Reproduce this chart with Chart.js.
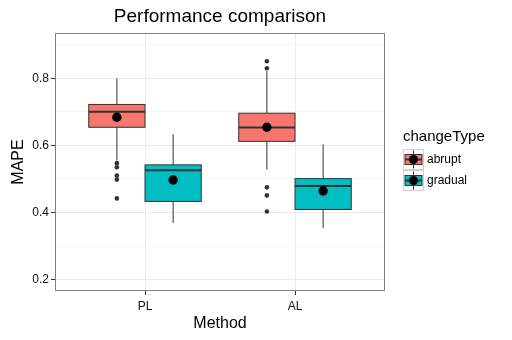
<!DOCTYPE html>
<html><head><meta charset="utf-8">
<script src="https://cdn.jsdelivr.net/npm/chart.js@4"></script>
<style>html,body{margin:0;padding:0;background:#fff}#wrap{width:512px;height:340px}</style>
</head><body><div id="wrap"><canvas id="c" width="512" height="340"></canvas></div>
<script>
const categories = ['PL', 'AL'];
const groups = ['abrupt', 'gradual'];
const groupColors = ['#F8766D', '#00BFC4'];
const yMajorTicks = [0.2, 0.4, 0.6, 0.8];
const yMinorTicks = [0.3, 0.5, 0.7, 0.9];

const abruptWhiskerLow  = [0.555, 0.528];
const abruptQ1          = [0.654, 0.612];
const abruptMedian      = [0.700, 0.653];
const abruptQ3          = [0.722, 0.696];
const abruptWhiskerHigh = [0.800, 0.822];
const abruptMean        = [0.684, 0.654];
const abruptOutliers    = [[0.547, 0.535, 0.510, 0.498, 0.442], [0.851, 0.830, 0.475, 0.451, 0.403]];

const gradualWhiskerLow  = [0.369, 0.354];
const gradualQ1          = [0.433, 0.409];
const gradualMedian      = [0.526, 0.479];
const gradualQ3          = [0.542, 0.501];
const gradualWhiskerHigh = [0.633, 0.603];
const gradualMean        = [0.497, 0.464];
const gradualOutliers    = [[], []];

const FONT = '"Liberation Sans", Arial, sans-serif';
const stats = [
  {lo: abruptWhiskerLow, q1: abruptQ1, med: abruptMedian, q3: abruptQ3, hi: abruptWhiskerHigh, mean: abruptMean, out: abruptOutliers},
  {lo: gradualWhiskerLow, q1: gradualQ1, med: gradualMedian, q3: gradualQ3, hi: gradualWhiskerHigh, mean: gradualMean, out: gradualOutliers}
];
const DODGE = 0.375;
function xPos(ci, gi) { return ci + 1 + (gi === 0 ? -DODGE / 2 : DODGE / 2); }

const datasets = [];
stats.forEach((s, gi) => {
  const pts = [];
  s.out.forEach((arr, ci) => arr.forEach(v => pts.push({x: xPos(ci, gi), y: v})));
  datasets.push({label: groups[gi] + ' outliers', data: pts, pointRadius: 2.3, pointBackgroundColor: '#333', pointBorderWidth: 0, pointHoverRadius: 2.3});
});
stats.forEach((s, gi) => {
  datasets.push({label: groups[gi] + ' mean', data: s.mean.map((v, ci) => ({x: xPos(ci, gi), y: v})), pointRadius: 4.7, pointBackgroundColor: '#000', pointBorderWidth: 0, pointHoverRadius: 4.7});
});

const boxPlugin = {
  id: 'boxes',
  beforeDatasetsDraw(chart) {
    const ctx = chart.ctx, xs = chart.scales.x, ys = chart.scales.y;
    ctx.save();
    stats.forEach((s, gi) => {
      categories.forEach((c, ci) => {
        const xc = xPos(ci, gi);
        const x0 = xs.getPixelForValue(xc - DODGE / 2), x1 = xs.getPixelForValue(xc + DODGE / 2);
        const xm = xs.getPixelForValue(xc);
        const yq1 = ys.getPixelForValue(s.q1[ci]), yq3 = ys.getPixelForValue(s.q3[ci]);
        ctx.strokeStyle = '#333'; ctx.lineWidth = 1;
        ctx.beginPath();
        ctx.moveTo(xm, ys.getPixelForValue(s.hi[ci])); ctx.lineTo(xm, yq3);
        ctx.moveTo(xm, yq1); ctx.lineTo(xm, ys.getPixelForValue(s.lo[ci]));
        ctx.stroke();
        ctx.fillStyle = groupColors[gi];
        ctx.fillRect(x0, yq3, x1 - x0, yq1 - yq3);
        ctx.strokeRect(x0, yq3, x1 - x0, yq1 - yq3);
        ctx.lineWidth = 2;
        const ym = ys.getPixelForValue(s.med[ci]);
        ctx.beginPath(); ctx.moveTo(x0, ym); ctx.lineTo(x1, ym); ctx.stroke();
      });
    });
    ctx.restore();
  },
  afterDraw(chart) {
    const ctx = chart.ctx, a = chart.chartArea;
    ctx.save();
    ctx.strokeStyle = '#7f7f7f'; ctx.lineWidth = 1;
    ctx.strokeRect(Math.round(a.left) + 0.5, Math.round(a.top) + 0.5, Math.round(a.right - a.left) - 1, Math.round(a.bottom - a.top) - 1);
    // title centred over the panel
    ctx.fillStyle = '#000';
    ctx.font = '19px ' + FONT;
    ctx.textAlign = 'center'; ctx.textBaseline = 'middle';
    ctx.fillText('Performance comparison', (a.left + a.right) / 2, 16.5);
    // legend
    const lx = 403, ly = 149, k = 21;
    ctx.font = '15px ' + FONT;
    ctx.textAlign = 'left';
    ctx.fillText('changeType', lx, 137);
    groups.forEach((g, gi) => {
      const y0 = ly + gi * k;
      ctx.fillStyle = '#fff'; ctx.fillRect(lx, y0, k, k);
      ctx.strokeStyle = '#d0d0d0'; ctx.lineWidth = 1;
      ctx.strokeRect(lx + 0.5, y0 + 0.5, k - 1, k - 1);
      const cx = lx + k / 2;
      ctx.strokeStyle = '#333';
      ctx.beginPath(); ctx.moveTo(cx, y0 + 1.5); ctx.lineTo(cx, y0 + k - 1.5); ctx.stroke();
      ctx.fillStyle = groupColors[gi];
      ctx.fillRect(lx + 2, y0 + 5.5, k - 4, k - 11);
      ctx.strokeRect(lx + 2, y0 + 5.5, k - 4, k - 11);
      ctx.lineWidth = 2;
      ctx.beginPath(); ctx.moveTo(lx + 2, y0 + k / 2); ctx.lineTo(lx + k - 2, y0 + k / 2); ctx.stroke();
      ctx.fillStyle = '#000';
      ctx.beginPath(); ctx.arc(cx, y0 + k / 2, 4.5, 0, Math.PI * 2); ctx.fill();
      ctx.font = '12px ' + FONT;
      ctx.fillText(g, lx + k + 3, y0 + k / 2 + 0.5);
    });
    ctx.restore();
  }
};

new Chart(document.getElementById('c'), {
  type: 'scatter',
  data: {datasets},
  plugins: [boxPlugin],
  options: {
    responsive: false, animation: false, devicePixelRatio: 1,
    layout: {padding: {left: 0, right: 127, top: 33, bottom: 0}},
    plugins: {legend: {display: false}, tooltip: {enabled: false}, title: {display: false}},
    scales: {
      x: {
        type: 'linear', min: 0.4, max: 2.6,
        afterBuildTicks: s => { s.ticks = categories.map((c, i) => ({value: i + 1})); },
        afterFit: s => { s.height = 49; },
        ticks: {callback: v => categories[Math.round(v) - 1], color: '#111', padding: 4,
          font: {family: FONT, size: 12}},
        grid: {color: '#ebebeb', tickColor: '#333', tickLength: 4},
        border: {display: false},
        title: {display: true, text: 'Method', color: '#000', padding: {top: 0, bottom: 7},
          font: {family: FONT, size: 16}}
      },
      y: {
        type: 'linear', min: 0.166, max: 0.935,
        afterBuildTicks: s => { s.ticks = yMajorTicks.concat(yMinorTicks).sort().map(v => ({value: v})); },
        afterFit: s => { s.width = 55; },
        ticks: {callback: v => yMajorTicks.some(t => Math.abs(t - v) < 1e-6) ? v.toFixed(1) : '',
          color: '#111', padding: 2, font: {family: FONT, size: 12}},
        grid: {
          color: c => yMajorTicks.some(t => Math.abs(t - c.tick.value) < 1e-6) ? '#ebebeb' : '#f5f5f5',
          tickColor: c => yMajorTicks.some(t => Math.abs(t - c.tick.value) < 1e-6) ? '#333' : 'rgba(0,0,0,0)',
          tickLength: 4
        },
        border: {display: false},
        title: {display: true, text: 'MAPE', color: '#000', padding: {top: 9, bottom: 0},
          font: {family: FONT, size: 16}}
      }
    }
  }
});
</script></body></html>
